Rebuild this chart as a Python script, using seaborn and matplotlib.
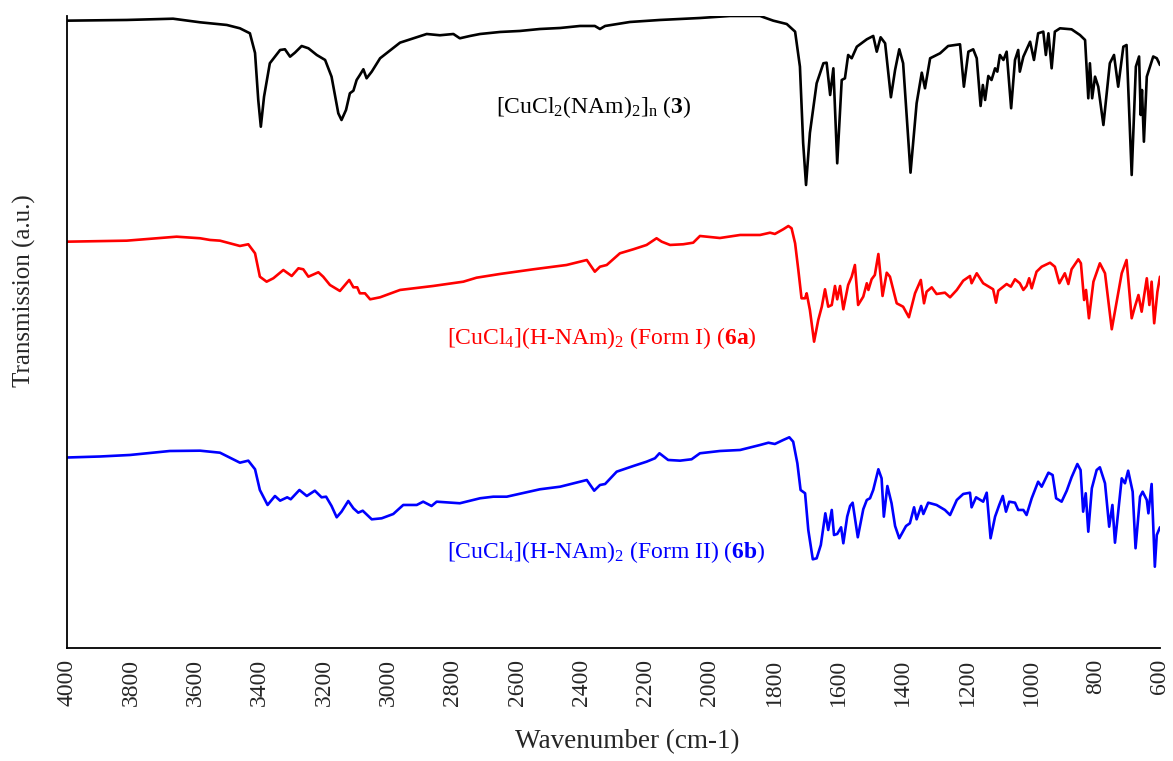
import matplotlib
matplotlib.use("Agg")
import matplotlib.pyplot as plt
import seaborn as sns
import pandas as pd

# FT-IR spectra, wavenumber in cm-1, transmission in arbitrary (offset) units
wn_3 = [3999, 3814, 3670, 3586, 3503, 3462, 3431, 3415, 3405, 3397, 3387, 3369, 3337, 3322,
        3306, 3291, 3270, 3249, 3223, 3197, 3177, 3156, 3146, 3132, 3120, 3109, 3099, 3089,
        3078, 3068, 3052, 3026, 2964, 2881, 2840, 2798, 2778, 2746, 2715, 2653, 2591, 2529,
        2466, 2404, 2358, 2342, 2326, 2249, 2155, 2031, 1938, 1844, 1803, 1761, 1735, 1720,
        1710, 1701, 1689, 1668, 1647, 1637, 1626, 1616, 1604, 1590, 1580, 1570, 1559, 1543,
        1512, 1492, 1481, 1469, 1455, 1437, 1424, 1411, 1399, 1376, 1357, 1341, 1331, 1315,
        1284, 1259, 1222, 1210, 1196, 1181, 1170, 1158, 1151, 1144, 1134, 1124, 1113, 1106,
        1098, 1087, 1077, 1063, 1051, 1041, 1036, 1025, 1004, 992, 979, 963, 955, 947, 937,
        927, 911, 875, 849, 833, 823, 818, 811, 802, 792, 776, 756, 743, 730, 714, 704, 688,
        675, 665, 660, 656, 650, 641, 621, 610, 600]
t_3 = [99.26, 99.37, 99.57, 99.0, 98.58, 98.05, 97.26, 94.15, 86.71, 82.48, 87.23, 92.52,
       94.62, 94.73, 93.56, 94.19, 95.25, 94.89, 93.83, 93.04, 90.40, 84.60, 83.54, 85.13,
       87.77, 88.18, 89.87, 90.66, 91.57, 90.14, 91.19, 93.31, 95.78, 97.15, 96.95, 97.15,
       96.47, 96.84, 97.15, 97.47, 97.63, 97.94, 98.10, 98.42, 98.42, 97.94, 98.42, 99.05,
       99.37, 99.68, 100.0, 100.0, 99.26, 98.73, 97.52, 91.98, 79.91, 73.26, 81.49, 89.35,
       92.52, 92.61, 87.50, 91.72, 76.69, 89.87, 90.14, 93.83, 93.31, 95.14, 96.31, 96.84,
       94.35, 96.63, 95.68, 87.14, 91.46, 94.73, 92.52, 75.21, 86.19, 91.03, 88.56, 93.31,
       94.10, 95.25, 95.52, 88.81, 94.35, 94.73, 93.31, 85.76, 89.08, 86.71, 90.51, 89.87,
       91.72, 91.19, 93.83, 93.04, 94.35, 85.40, 93.04, 94.62, 91.19, 93.56, 95.93, 93.04,
       97.26, 97.52, 93.83, 97.26, 91.72, 97.52, 98.05, 97.89, 96.99, 96.20, 86.98, 92.52,
       86.98, 90.40, 88.81, 82.75, 92.52, 93.83, 88.81, 95.14, 95.41, 74.84, 91.98, 93.59,
       84.34, 88.29, 80.11, 90.40, 93.59, 93.31, 92.25]

wn_6a = [3999, 3814, 3659, 3586, 3555, 3524, 3462, 3436, 3415, 3400, 3379, 3358, 3327, 3301,
         3280, 3265, 3249, 3218, 3203, 3182, 3151, 3122, 3109, 3097, 3089, 3073, 3057, 3026,
         2964, 2861, 2767, 2726, 2653, 2549, 2446, 2383, 2358, 2342, 2321, 2280, 2238, 2197,
         2166, 2150, 2124, 2083, 2052, 2031, 1969, 1906, 1844, 1813, 1798, 1772, 1756, 1746,
         1735, 1725, 1715, 1704, 1699, 1689, 1676, 1663, 1652, 1642, 1632, 1621, 1611, 1604,
         1595, 1585, 1570, 1559, 1549, 1539, 1523, 1512, 1507, 1497, 1487, 1476, 1463, 1450,
         1440, 1419, 1399, 1381, 1362, 1344, 1334, 1326, 1310, 1295, 1269, 1253, 1232, 1212,
         1191, 1186, 1170, 1150, 1119, 1110, 1103, 1077, 1064, 1051, 1036, 1025, 1015, 1007,
         999, 984, 968, 942, 927, 913, 896, 885, 875, 854, 846, 836, 830, 821, 807, 787, 771,
         750, 719, 704, 688, 678, 667, 657, 641, 633, 626, 618, 608, 600]
t_6a = [64.29, 64.45, 65.08, 64.83, 64.56, 64.45, 63.61, 63.88, 62.45, 58.75, 57.96, 58.50,
        59.81, 58.86, 60.08, 59.92, 58.75, 59.45, 58.75, 57.44, 56.49, 58.23, 57.07, 57.07,
        56.12, 56.12, 55.17, 55.49, 56.65, 57.28, 57.96, 58.59, 59.18, 59.92, 60.60, 61.39,
        59.54, 60.33, 60.60, 62.45, 63.09, 63.77, 64.83, 64.29, 63.77, 63.88, 64.13, 65.19,
        64.87, 65.35, 65.35, 65.71, 65.51, 66.25, 66.77, 66.41, 64.03, 59.81, 55.33, 55.33,
        56.12, 53.48, 48.47, 51.90, 54.00, 56.76, 54.00, 54.27, 57.28, 55.17, 57.28, 53.59,
        57.44, 58.75, 60.60, 54.27, 55.59, 57.71, 56.65, 58.34, 59.02, 62.34, 55.70, 59.38,
        58.75, 54.54, 54.00, 52.33, 56.12, 58.23, 54.54, 56.38, 57.07, 56.01, 56.22, 55.49,
        56.65, 58.12, 58.86, 57.71, 59.29, 57.71, 56.76, 54.64, 56.53, 57.59, 57.17, 58.34,
        57.71, 56.65, 57.28, 58.50, 56.91, 59.54, 60.33, 60.96, 60.33, 57.71, 59.29, 57.59,
        59.92, 61.50, 60.87, 55.06, 56.65, 52.17, 57.96, 60.87, 59.29, 50.43, 59.29, 61.39,
        52.17, 54.00, 55.85, 53.21, 58.50, 54.27, 57.96, 51.38, 56.38, 58.75]

wn_6b = [4000, 3897, 3804, 3680, 3586, 3524, 3462, 3436, 3415, 3400, 3376, 3353, 3337, 3315,
         3304, 3277, 3254, 3229, 3208, 3194, 3177, 3161, 3146, 3125, 3109, 3094, 3080, 3052,
         3021, 2985, 2954, 2912, 2892, 2866, 2850, 2778, 2715, 2674, 2632, 2529, 2466, 2383,
         2360, 2342, 2326, 2290, 2238, 2197, 2171, 2157, 2130, 2093, 2057, 2031, 1969, 1906,
         1844, 1818, 1798, 1772, 1753, 1741, 1728, 1718, 1704, 1694, 1680, 1668, 1655, 1641,
         1632, 1621, 1614, 1604, 1592, 1585, 1573, 1564, 1556, 1540, 1523, 1512, 1502, 1492,
         1476, 1466, 1459, 1448, 1435, 1424, 1411, 1390, 1378, 1365, 1357, 1343, 1336, 1321,
         1295, 1269, 1253, 1232, 1212, 1191, 1186, 1172, 1150, 1139, 1127, 1113, 1100, 1089,
         1079, 1069, 1051, 1041, 1025, 1015, 999, 979, 968, 947, 934, 923, 906, 890, 875, 857,
         847, 839, 831, 823, 812, 797, 787, 771, 758, 748, 740, 719, 709, 699, 685, 676, 662,
         654, 641, 636, 626, 616, 610, 600]
t_6b = [30.14, 30.30, 30.54, 31.17, 31.22, 30.90, 29.32, 29.64, 28.28, 25.0, 22.63, 24.05,
        23.31, 23.84, 23.53, 25.0, 24.05, 24.89, 23.84, 23.94, 22.47, 20.68, 21.57, 23.26,
        22.10, 21.41, 21.72, 20.36, 20.52, 21.20, 22.63, 22.63, 23.15, 22.47, 23.15, 22.90,
        23.69, 23.94, 23.94, 25.11, 25.52, 26.58, 24.89, 25.79, 25.95, 27.90, 28.80, 29.48,
        30.02, 30.81, 29.75, 29.64, 29.86, 30.81, 31.17, 31.33, 32.12, 32.48, 32.28, 32.91,
        33.34, 32.64, 29.22, 25.0, 24.48, 18.67, 14.03, 14.19, 16.30, 21.31, 18.67, 21.84,
        17.88, 18.04, 19.10, 16.57, 20.78, 22.47, 22.99, 17.52, 21.95, 23.42, 23.69, 25.0,
        28.28, 26.85, 20.78, 25.63, 22.90, 19.30, 17.36, 19.30, 19.73, 22.26, 20.36, 22.47,
        21.20, 22.99, 22.63, 21.84, 21.04, 23.42, 24.37, 24.57, 22.26, 23.84, 23.15, 24.57,
        17.36, 20.78, 22.63, 24.05, 21.57, 23.15, 22.99, 21.84, 21.84, 21.04, 23.69, 26.31,
        25.52, 27.74, 27.37, 23.69, 23.15, 24.89, 27.01, 29.11, 28.16, 21.57, 24.48, 18.40,
        25.27, 28.16, 28.59, 26.06, 19.19, 22.63, 16.66, 26.85, 26.06, 28.05, 24.73, 15.78,
        23.94, 24.73, 23.42, 21.31, 25.95, 12.86, 17.88, 19.10]

series_names = ["3", "6a", "6b"]
series_colors = ["black", "red", "blue"]
series_labels = [r"[CuCl$_2$(NAm)$_2$]$_\mathrm{n}$ ($\mathbf{3}$)",
                 r"[CuCl$_4$](H-NAm)$_2$ (Form I) ($\mathbf{6a}$)",
                 r"[CuCl$_4$](H-NAm)$_2$ (Form II) ($\mathbf{6b}$)"]
label_wn = [2361, 2336, 2323]
label_t = [85.6, 49.0, 15.2]

x_ticks = list(range(4000, 599, -200))

sns.set_theme(style="white")
plt.rcParams["font.family"] = ["Liberation Serif", "DejaVu Serif"]
plt.rcParams["mathtext.fontset"] = "custom"
plt.rcParams["mathtext.rm"] = "Liberation Serif"
plt.rcParams["mathtext.bf"] = "Liberation Serif:bold"
plt.rcParams["mathtext.it"] = "Liberation Serif:italic"
plt.rcParams["lines.solid_joinstyle"] = "round"

frames = []
for name, w, t in zip(series_names, [wn_3, wn_6a, wn_6b], [t_3, t_6a, t_6b]):
    frames.append(pd.DataFrame({"wavenumber": w, "transmission": t, "sample": name}))
df = pd.concat(frames, ignore_index=True)

fig = plt.figure(figsize=(11.73, 7.61), dpi=100)
ax = fig.add_axes([0.0571, 0.1485, 0.9318, 0.8305])

sns.lineplot(data=df, x="wavenumber", y="transmission", hue="sample",
             palette=dict(zip(series_names, series_colors)), estimator=None,
             sort=False, linewidth=1.9, legend=False, ax=ax)

for lab, c, xw, yt in zip(series_labels, series_colors, label_wn, label_t):
    ax.text(xw, yt, lab, color=c, fontsize=17, ha="center", va="center")

ax.set_xlim(4000, 600)
ax.set_ylim(0, 100)
ax.set_xticks(x_ticks)
ax.set_xticklabels([str(v) for v in x_ticks], rotation=90, fontsize=17)
ax.set_yticks([])
ax.tick_params(axis="x", length=0, pad=8)
ax.set_xlabel("Wavenumber (cm-1)", fontsize=19.5)
ax.set_ylabel("Transmission (a.u.)", fontsize=18)
ax.xaxis.set_label_coords(0.513, -0.128)
ax.yaxis.set_label_coords(-0.028, 0.566)

for side in ["top", "right"]:
    ax.spines[side].set_visible(False)
for side in ["left", "bottom"]:
    ax.spines[side].set_color("black")
    ax.spines[side].set_linewidth(1.3)

fig.savefig("out.png", dpi=100)
